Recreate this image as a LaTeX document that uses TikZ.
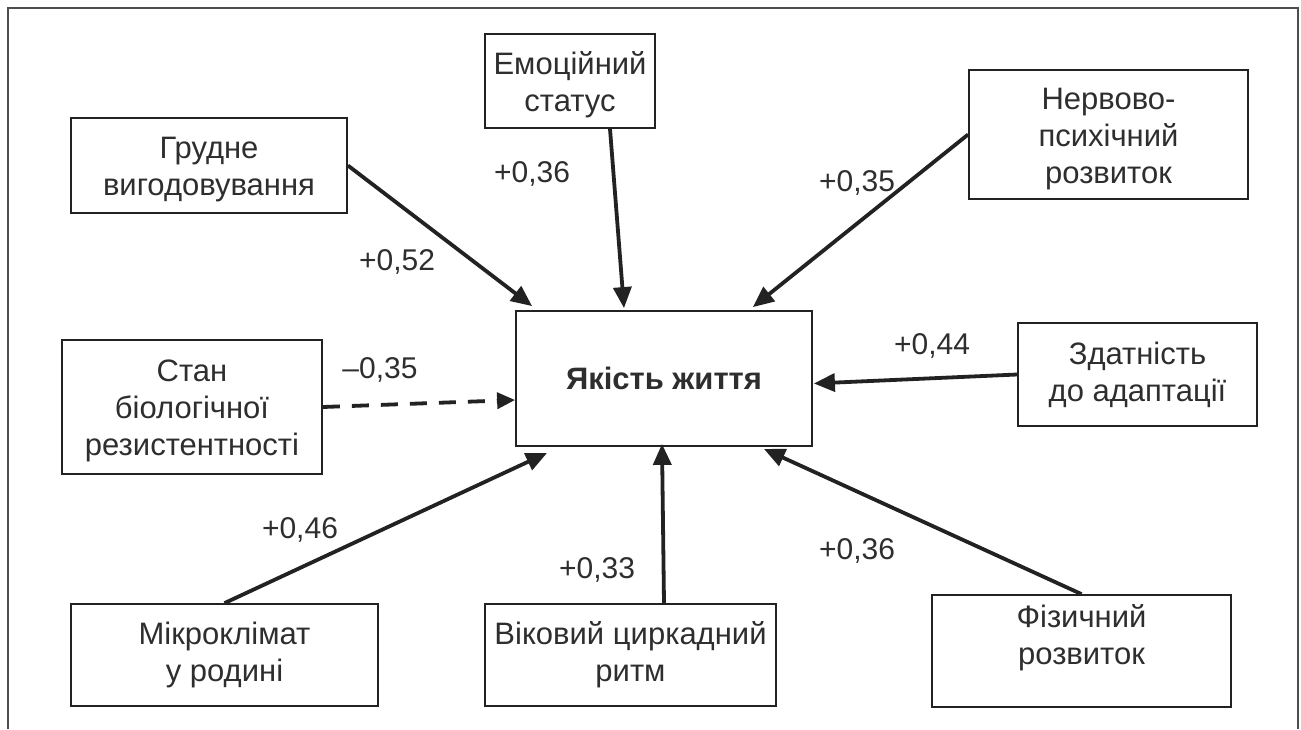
\documentclass[tikz,border=0pt]{standalone}
\usepackage{fontspec}
\setmainfont{Liberation Sans}
\usetikzlibrary{arrows.meta}
\definecolor{ink}{HTML}{222222}
\definecolor{txt}{HTML}{2e2e2e}
\newcommand{\mystrut}[1]{\rule{0pt}{#1}}
\begin{document}
\begin{tikzpicture}[x=1pt,y=-1pt,
  box/.style={draw=ink,line width=1.8pt,inner sep=0pt,align=center,text=txt,
    font=\fontsize{31}{37}\selectfont},
  lbl/.style={text=txt,font=\fontsize{30}{34}\selectfont,inner sep=0pt},
  conn/.style={draw=ink,line width=3.8pt,-{Triangle[length=21pt,width=18pt]}},
  frame/.style={draw=ink!80,line width=1.6pt}]
\useasboundingbox (0,0) rectangle (1301,729);
\draw[frame] (8,729) -- (8,8) -- (1298,8) -- (1298,729);

\node[box,minimum width=296pt,minimum height=135pt,font=\bfseries\fontsize{31}{37}\selectfont] (q) at (664,378.5) {Якість життя};
\node[box,minimum width=276pt,minimum height=95pt] (grud) at (209,165.5) {\mystrut{30pt}Грудне\\вигодовування};
\node[box,minimum width=170pt,minimum height=94pt] (emo) at (570,81) {\mystrut{30pt}Емоційний\\статус};
\node[box,minimum width=279pt,minimum height=129pt] (nerv) at (1108.5,134.5) {\mystrut{30pt}Нервово-\\психічний\\розвиток};
\node[box,minimum width=260pt,minimum height=134pt] (stan) at (192,407) {\mystrut{29pt}Стан\\біологічної\\резистентності};
\node[box,minimum width=239pt,minimum height=103pt] (zdat) at (1137.5,374.5) {Здатність\\до адаптації};
\node[box,minimum width=307pt,minimum height=102pt] (mikro) at (224.5,655) {Мікроклімат\\у родині};
\node[box,minimum width=291pt,minimum height=102pt] (vik) at (630.5,655) {Віковий циркадний\\ритм};
\node[box,minimum width=299pt,minimum height=112pt] (fiz) at (1081.5,651) {};
\node[box,draw=none] (fizt) at (1081.5,638) {Фізичний\\розвиток};

\draw[conn] (grud.east) -- ([xshift=17pt,yshift=4pt]q.north west);
\draw[conn] ([xshift=40pt]emo.south) -- ([xshift=-40pt,yshift=2pt]q.north);
\draw[conn] (nerv.west) -- ([xshift=-60pt,yshift=3pt]q.north east);
\draw[conn] (zdat.west) -- ([xshift=1pt,yshift=-5pt]q.east);
\draw[conn,dash pattern=on 17pt off 12pt,-{Triangle[length=18pt,width=16pt]}] (stan.east) -- ([yshift=-21.5pt]q.west);
\draw[conn] (mikro.north) -- ([xshift=32pt,yshift=-6pt]q.south west);
\draw[conn] ([xshift=33.5pt]vik.north) -- ([xshift=-2pt,yshift=3pt]q.south);
\draw[conn] (fiz.north) -- ([xshift=-49pt,yshift=-2pt]q.south east);

\node[lbl] (l1) at (397,262) {+0,52};
\node[lbl] (l2) at (532,174) {+0,36};
\node[lbl] (l3) at (857,183) {+0,35};
\node[lbl] (l4) at (932,346) {+0,44};
\node[lbl] (l5) at (380,370) {–0,35};
\node[lbl] (l6) at (300,530) {+0,46};
\node[lbl] (l7) at (597,570) {+0,33};
\node[lbl] (l8) at (857,551) {+0,36};
\end{tikzpicture}
\end{document}
